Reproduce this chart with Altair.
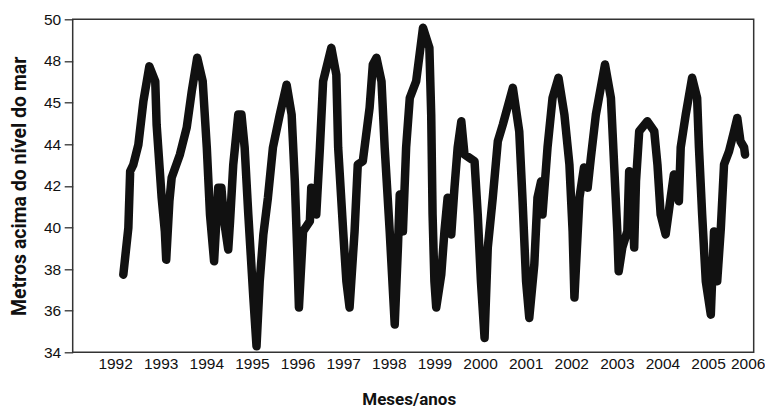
import altair as alt
import pandas as pd

# Lake level readings (decimal year, metres above sea level)
years = [
    1992.18, 1992.29, 1992.33, 1992.40, 1992.51, 1992.62, 1992.75, 1992.88, 1992.91, 1993.02,
    1993.09, 1993.12, 1993.19, 1993.24, 1993.42, 1993.57, 1993.68, 1993.80, 1993.92, 1994.01,
    1994.08, 1994.17, 1994.26, 1994.33, 1994.39, 1994.48, 1994.52, 1994.59, 1994.70, 1994.77,
    1994.84, 1994.92, 1995.03, 1995.10, 1995.17, 1995.25, 1995.35, 1995.46, 1995.61, 1995.76,
    1995.87, 1995.94, 1995.99, 1996.03, 1996.12, 1996.27, 1996.30, 1996.41, 1996.49, 1996.56,
    1996.74, 1996.85, 1996.89, 1997.00, 1997.07, 1997.14, 1997.25, 1997.32, 1997.43, 1997.58,
    1997.65, 1997.73, 1997.84, 1997.91, 1998.02, 1998.13, 1998.20, 1998.24, 1998.31, 1998.38,
    1998.46, 1998.60, 1998.75, 1998.89, 1998.93, 1998.96, 1999.00, 1999.04, 1999.15, 1999.22,
    1999.29, 1999.37, 1999.44, 1999.51, 1999.59, 1999.66, 1999.77, 1999.88, 1999.95, 2000.02,
    2000.10, 2000.17, 2000.28, 2000.39, 2000.50, 2000.72, 2000.86, 2000.93, 2001.01, 2001.08,
    2001.19, 2001.26, 2001.34, 2001.37, 2001.48, 2001.59, 2001.72, 2001.85, 2001.96, 2002.03,
    2002.07, 2002.18, 2002.28, 2002.36, 2002.43, 2002.54, 2002.74, 2002.87, 2002.94, 2003.01,
    2003.04, 2003.12, 2003.23, 2003.27, 2003.34, 2003.38, 2003.42, 2003.49, 2003.67, 2003.82,
    2003.89, 2003.96, 2004.07, 2004.18, 2004.25, 2004.36, 2004.40, 2004.51, 2004.65, 2004.76,
    2004.80, 2004.87, 2004.95, 2005.06, 2005.13, 2005.20, 2005.28, 2005.35, 2005.46, 2005.57,
    2005.64, 2005.71, 2005.79, 2005.81,
]
levels = [
    37.73, 39.98, 42.70, 43.02, 43.98, 46.06, 47.74, 47.02, 44.94, 41.43,
    39.81, 38.45, 41.26, 42.39, 43.50, 44.80, 46.54, 48.15, 47.02, 43.84,
    40.62, 38.37, 41.91, 41.91, 40.30, 38.94, 40.30, 43.02, 45.42, 45.42,
    43.84, 40.62, 36.63, 34.29, 37.41, 39.66, 41.43, 43.84, 45.42, 46.86,
    45.42, 42.22, 39.03, 36.15, 39.81, 40.30, 41.91, 40.62, 43.84, 47.02,
    48.63, 47.34, 43.84, 39.81, 37.41, 36.15, 39.81, 43.02, 43.18, 45.76,
    47.83, 48.15, 47.02, 43.84, 39.81, 35.33, 39.03, 41.58, 39.81, 43.84,
    46.22, 47.02, 49.59, 48.63, 45.42, 40.62, 37.41, 36.15, 37.73, 39.81,
    41.43, 39.66, 41.91, 43.84, 45.10, 43.50, 43.34, 43.18, 40.62, 37.41,
    34.69, 39.03, 41.43, 44.14, 44.94, 46.71, 44.62, 41.43, 37.41, 35.65,
    38.21, 41.43, 42.22, 40.62, 43.84, 46.22, 47.19, 45.42, 43.02, 39.81,
    36.63, 41.43, 42.88, 41.91, 43.34, 45.42, 47.83, 46.22, 43.02, 39.81,
    37.89, 39.03, 39.81, 42.70, 41.43, 39.03, 42.22, 44.62, 45.10, 44.62,
    43.02, 40.62, 39.66, 41.43, 42.54, 41.26, 43.84, 45.42, 47.19, 46.22,
    43.84, 40.62, 37.41, 35.81, 39.81, 37.41, 39.98, 43.02, 43.66, 44.62,
    45.26, 44.14, 43.84, 43.50,
]
x_ticks = list(range(1992, 2007))
y_ticks = [34, 36, 38, 40, 42, 44, 46, 48, 50]

df = pd.DataFrame({"ano": years, "nivel": levels, "ordem": range(len(years))})

FONT = "Liberation Sans"
TITLE_FONT = "Roboto"

chart = (
    alt.Chart(df)
    .mark_line(color="#111111", strokeWidth=8.5, strokeCap="round", strokeJoin="round")
    .encode(
        x=alt.X(
            "ano:Q",
            scale=alt.Scale(domain=[1991.07, 2006.0], nice=False, zero=False),
            axis=alt.Axis(
                values=x_ticks,
                format="d",
                ticks=False,
                domain=False,
                grid=False,
                labelFont=FONT,
                labelFontSize=15.5,
                labelColor="#111111",
                labelPadding=4.5,
                labelFlush=False,
                labelOverlap=False,
                labelOffset={"condition": {"test": "datum.value == 2006", "value": -6}, "value": 0},
                title="Meses/anos",
                titleFont=TITLE_FONT,
                titleFontSize=17,
                titleFontWeight="bold",
                titleColor="#111111",
                titleX=336,
                titleY=52.5,
                titleBaseline="alphabetic",
                titleAlign="center",
            ),
        ),
        y=alt.Y(
            "nivel:Q",
            scale=alt.Scale(domain=[34, 50], nice=False, zero=False),
            axis=alt.Axis(
                values=y_ticks,
                labelExpr="datum.value == 46 ? '45' : datum.label",
                tickSize=8.5,
                tickColor="#333333",
                tickWidth=1.3,
                domain=False,
                grid=False,
                labelFont=FONT,
                labelFontSize=15.5,
                labelColor="#111111",
                labelPadding=3.5,
                title="Metros acima do nível do mar",
                titleFont=TITLE_FONT,
                titleFontSize=19.5,
                titleFontWeight="bold",
                titleColor="#111111",
                titleX=-47,
                titleY=166.5,
                titleBaseline="alphabetic",
                titleAlign="center",
                titleAngle=-90,
            ),
        ),
        order="ordem:Q",
    )
    .properties(
        width=681,
        height=333,
        background="white",
        autosize=alt.AutoSizeParams(type="none"),
        padding={"left": 64.7, "top": 11.3, "right": 11, "bottom": 58},
    )
    .configure_view(stroke="#333333", strokeWidth=1.5)
)

chart.save("out.html", embed_options={"renderer": "svg", "actions": False})
